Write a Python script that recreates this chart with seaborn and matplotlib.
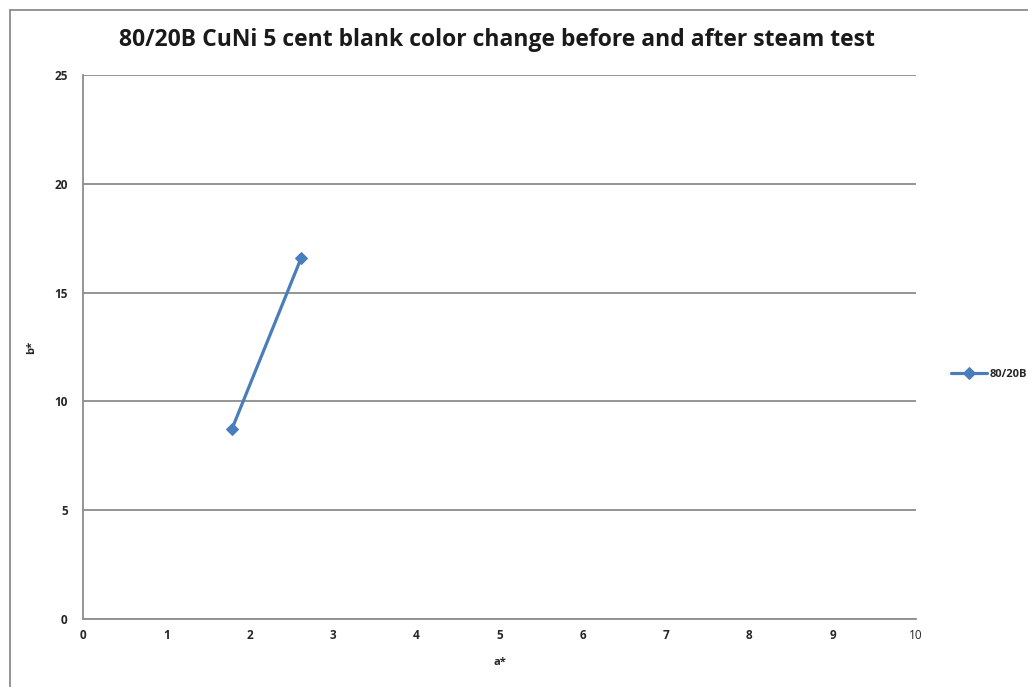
import matplotlib
matplotlib.use('Agg')
import matplotlib.pyplot as plt
import seaborn as sns
import pandas as pd
from matplotlib.lines import Line2D

# ============================================================
# DATA
# ============================================================
SERIES_NAME = '80/20B'
A_STAR = [1.79, 2.62]
B_STAR = [8.75, 16.6]
X_TICKS = [0, 1, 2, 3, 4, 5, 6, 7, 8, 9, 10]
Y_TICKS = [0, 5, 10, 15, 20, 25]
TITLE = '80/20B CuNi 5 cent blank color change before and after steam test'

LINE_COLOR = '#4a7ebb'
GRID_COLOR = '#8c8c8c'
FONT = ['Open Sans', 'DejaVu Sans']

sns.set_theme(style='white')
plt.rcParams['font.family'] = FONT

df = pd.DataFrame({'a*': A_STAR, 'b*': B_STAR, 'series': SERIES_NAME})

fig = plt.figure(figsize=(10.28, 6.87), dpi=100)
ax = fig.add_axes([83 / 1028, 1 - 619 / 687, (916 - 83) / 1028, (619 - 75) / 687])

sns.lineplot(data=df, x='a*', y='b*', hue='series', palette=[LINE_COLOR],
             marker='D', markersize=6.5, markeredgecolor=LINE_COLOR,
             linewidth=2.3, sort=False, ax=ax)

ax.set_xlim(0, 10)
ax.set_ylim(0, 25)
ax.set_xticks(X_TICKS)
ax.set_yticks(Y_TICKS)
ax.set_xticklabels([str(t) for t in X_TICKS], fontsize=8.5, fontweight='bold')
ax.set_yticklabels([str(t) for t in Y_TICKS], fontsize=8.5, fontweight='bold')
ax.get_xticklabels()[-1].set_fontweight('normal')
ax.tick_params(axis='x', length=0, pad=7)
ax.tick_params(axis='y', length=0, pad=11)

ax.yaxis.grid(True, color=GRID_COLOR, linewidth=1.3)
ax.xaxis.grid(False)
ax.set_axisbelow(True)
for side in ['top', 'right']:
    ax.spines[side].set_visible(False)
for side in ['left', 'bottom']:
    ax.spines[side].set_color(GRID_COLOR)
    ax.spines[side].set_linewidth(1.3)

ax.set_xlabel('a*', fontsize=8, fontweight='bold', labelpad=11)
ax.set_ylabel('b*', fontsize=8, fontweight='bold', labelpad=12)

fig.text(497 / 1028, 1 - 40 / 687, TITLE, ha='center', va='center',
         fontsize=16.5, fontweight='bold', color='#1a1a1a')

leg = ax.legend(loc='center left', bbox_to_anchor=(1.03, 0.45), frameon=False,
                fontsize=8, handlelength=3.2, handletextpad=0.3)
for t in leg.get_texts():
    t.set_fontweight('bold')

# outer chart frame (left and top edges visible)
fig.add_artist(Line2D([10 / 1028, 10 / 1028], [0, 1 - 10 / 687],
                      transform=fig.transFigure, color=GRID_COLOR, linewidth=1.3))
fig.add_artist(Line2D([10 / 1028, 1], [1 - 10 / 687, 1 - 10 / 687],
                      transform=fig.transFigure, color=GRID_COLOR, linewidth=1.3))

fig.savefig('out.png', dpi=100)
